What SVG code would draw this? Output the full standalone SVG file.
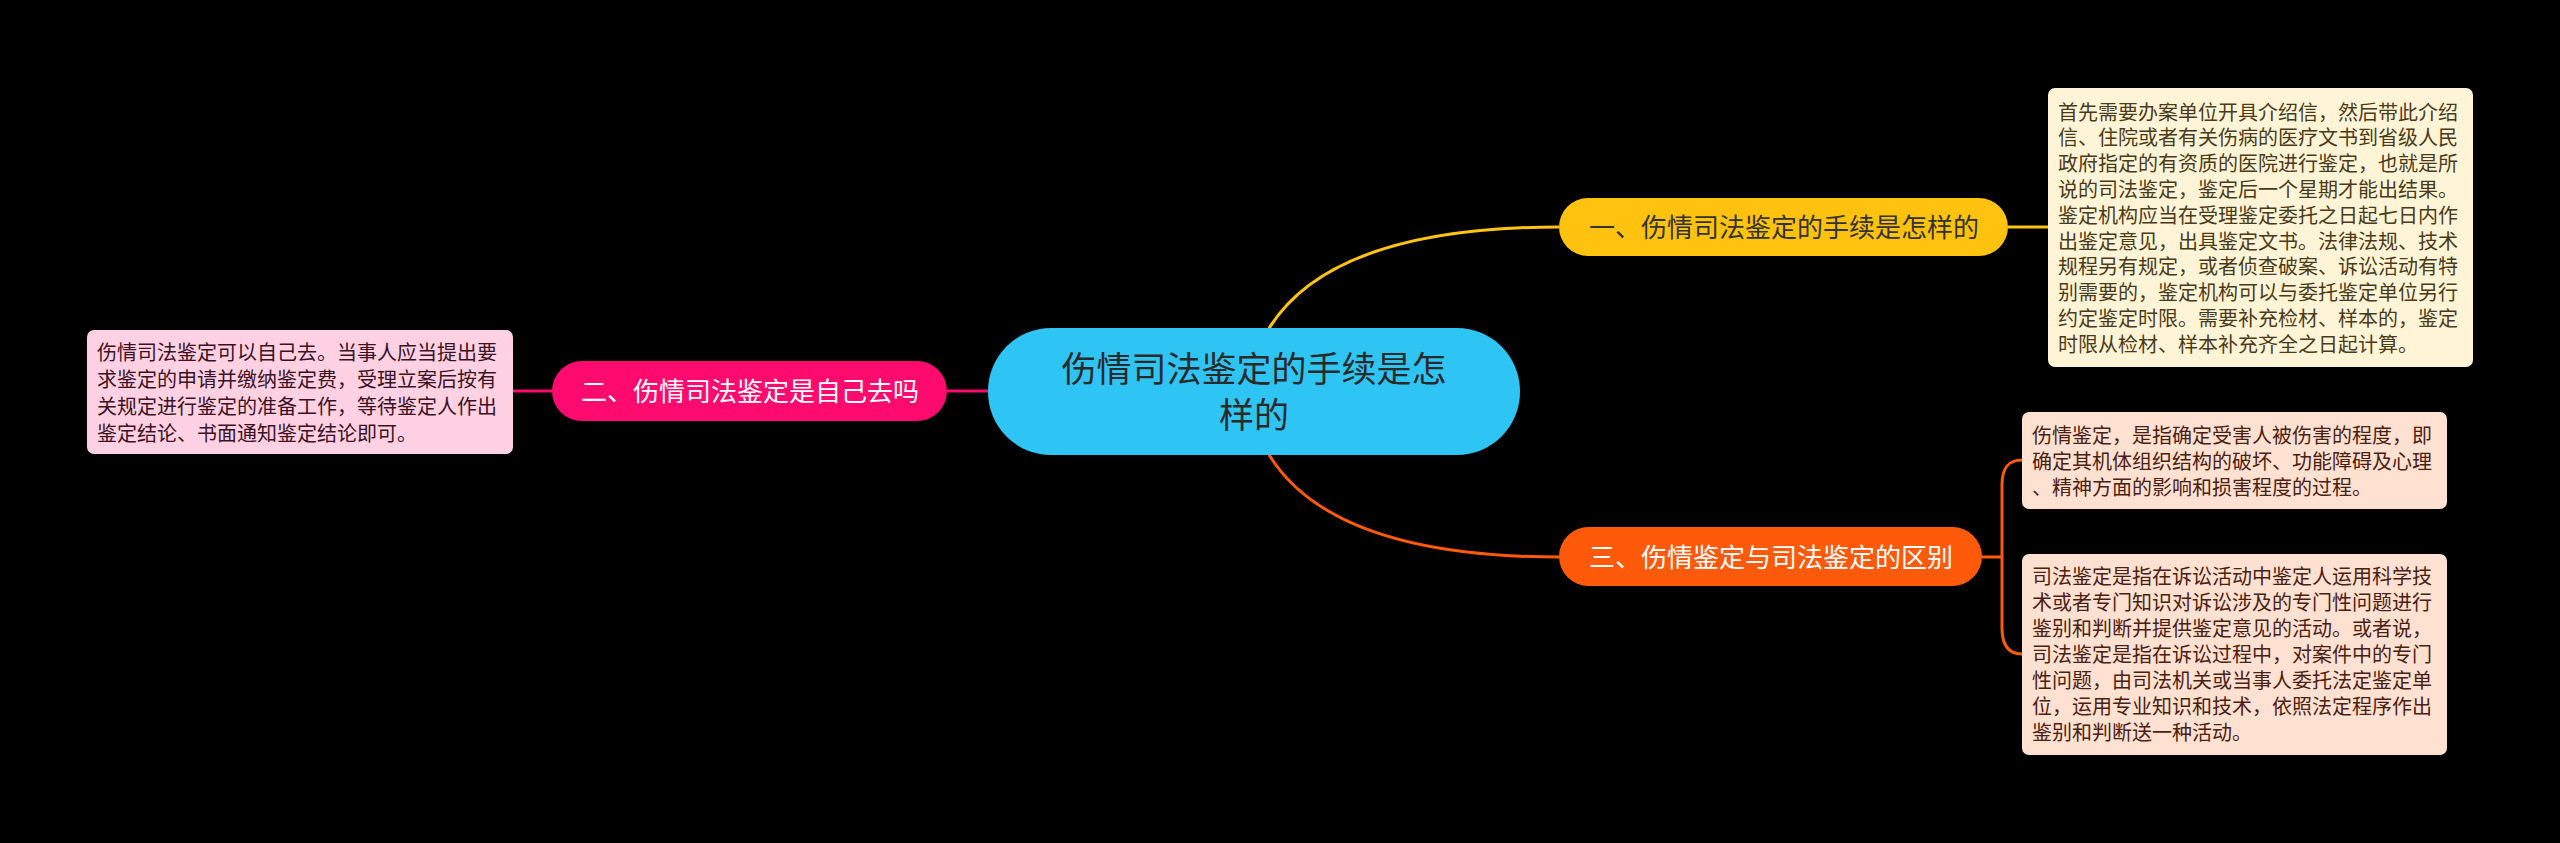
<svg xmlns="http://www.w3.org/2000/svg" width="2560" height="843" viewBox="0 0 2560 843">
<style>
text{font-family:"Noto Sans CJK SC","Noto Sans",sans-serif}
.leaf{font-size:20px}
.br{font-size:26px;text-anchor:middle}
.conn{fill:none;stroke-width:3}
</style>
<rect width="2560" height="843" fill="#000"/>
<g id="connectors">
<path class="conn" stroke="#FFC312" d="M1268 330 Q1330 227 1559 227"/>
<path class="conn" stroke="#FF5A0A" d="M1268 453 Q1330 557 1559 557"/>
<path class="conn" stroke="#FF0A6E" d="M947 391 L988 391"/>
<path class="conn" stroke="#FF0A6E" d="M513 391 L552 391"/>
<path class="conn" stroke="#FFC312" d="M2008 227 L2049 227"/>
<path class="conn" stroke="#FF5A0A" d="M1982 557 L2002 557"/>
<path class="conn" stroke="#FF5A0A" d="M2022 460 C2008 460,2002 468,2002 485 L2002 628 C2002 645,2008 654,2022 654"/>
</g>
<g id="center">
<rect x="988" y="328" width="532" height="127" rx="63" fill="#2EC4F3"/>
<text x="1254" y="382" font-size="35" text-anchor="middle" fill="#2a2a2a">伤情司法鉴定的手续是怎</text>
<text x="1254" y="428" font-size="35" text-anchor="middle" fill="#2a2a2a">样的</text>
</g>
<g id="branch1">
<rect x="1559" y="198" width="449" height="58" rx="29" fill="#FFC20F"/>
<text class="br" x="1784" y="237" fill="#333">一、伤情司法鉴定的手续是怎样的</text>
</g>
<g id="branch2">
<rect x="552" y="361" width="395" height="60" rx="30" fill="#FF0A6E"/>
<text class="br" x="750" y="401" fill="#fff">二、伤情司法鉴定是自己去吗</text>
</g>
<g id="branch3">
<rect x="1559" y="527" width="423" height="59" rx="29.5" fill="#FF5A0A"/>
<text class="br" x="1771" y="567" fill="#fff">三、伤情鉴定与司法鉴定的区别</text>
</g>
<g id="leaf1">
<rect x="2048" y="88" width="425" height="279" rx="7" fill="#FFF5D6"/>
<text class="leaf" fill="#4A3A18">
<tspan x="2058" y="119.5">首先需要办案单位开具介绍信，然后带此介绍</tspan>
<tspan x="2058" y="145.3">信、住院或者有关伤病的医疗文书到省级人民</tspan>
<tspan x="2058" y="171.1">政府指定的有资质的医院进行鉴定，也就是所</tspan>
<tspan x="2058" y="196.9">说的司法鉴定，鉴定后一个星期才能出结果。</tspan>
<tspan x="2058" y="222.7">鉴定机构应当在受理鉴定委托之日起七日内作</tspan>
<tspan x="2058" y="248.5">出鉴定意见，出具鉴定文书。法律法规、技术</tspan>
<tspan x="2058" y="274.3">规程另有规定，或者侦查破案、诉讼活动有特</tspan>
<tspan x="2058" y="300.1">别需要的，鉴定机构可以与委托鉴定单位另行</tspan>
<tspan x="2058" y="325.9">约定鉴定时限。需要补充检材、样本的，鉴定</tspan>
<tspan x="2058" y="351.7">时限从检材、样本补充齐全之日起计算。</tspan>
</text>
</g>
<g id="leaf2">
<rect x="87" y="330" width="426" height="124" rx="7" fill="#FFD1E3"/>
<text class="leaf" fill="#3A1224">
<tspan x="97" y="360">伤情司法鉴定可以自己去。当事人应当提出要</tspan>
<tspan x="97" y="387">求鉴定的申请并缴纳鉴定费，受理立案后按有</tspan>
<tspan x="97" y="414">关规定进行鉴定的准备工作，等待鉴定人作出</tspan>
<tspan x="97" y="441">鉴定结论、书面通知鉴定结论即可。</tspan>
</text>
</g>
<g id="leaf3a">
<rect x="2022" y="412" width="425" height="97" rx="7" fill="#FFE1D2"/>
<text class="leaf" fill="#4A2010">
<tspan x="2032" y="442.6">伤情鉴定，是指确定受害人被伤害的程度，即</tspan>
<tspan x="2032" y="468.6">确定其机体组织结构的破坏、功能障碍及心理</tspan>
<tspan x="2032" y="494.6">、精神方面的影响和损害程度的过程。</tspan>
</text>
</g>
<g id="leaf3b">
<rect x="2022" y="554" width="425" height="201" rx="7" fill="#FFE1D2"/>
<text class="leaf" fill="#4A2010">
<tspan x="2032" y="584.3">司法鉴定是指在诉讼活动中鉴定人运用科学技</tspan>
<tspan x="2032" y="610.3">术或者专门知识对诉讼涉及的专门性问题进行</tspan>
<tspan x="2032" y="636.3">鉴别和判断并提供鉴定意见的活动。或者说，</tspan>
<tspan x="2032" y="662.3">司法鉴定是指在诉讼过程中，对案件中的专门</tspan>
<tspan x="2032" y="688.3">性问题，由司法机关或当事人委托法定鉴定单</tspan>
<tspan x="2032" y="714.3">位，运用专业知识和技术，依照法定程序作出</tspan>
<tspan x="2032" y="740.3">鉴别和判断送一种活动。</tspan>
</text>
</g>
</svg>
